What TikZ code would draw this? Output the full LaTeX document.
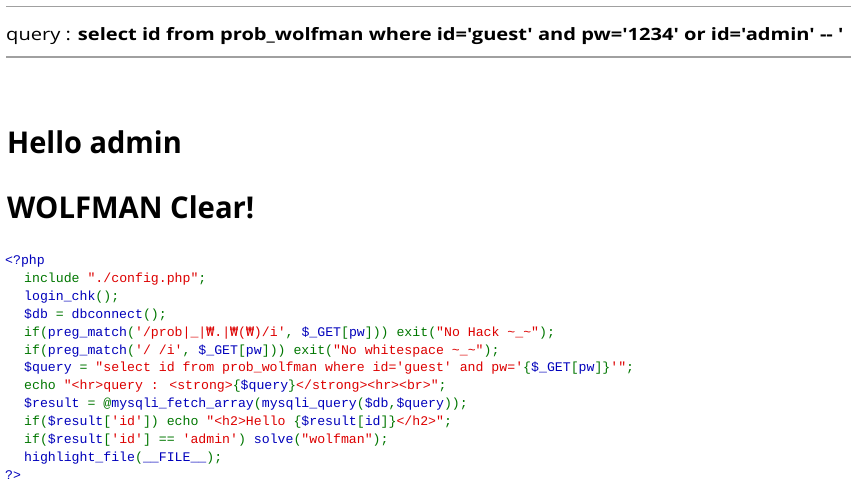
\documentclass[tikz,border=0pt]{standalone}
\usepackage{fontspec}
\usepackage{graphicx}
\newfontfamily\codefont{Liberation Mono}[Ligatures=TeXOff]
\newfontfamily\wonfont{DejaVu Sans Mono}[Ligatures=TeXOff]
\newfontfamily\pagefont{Open Sans}[Ligatures=TeXOff]
\definecolor{phpblue}{RGB}{0,0,187}
\definecolor{phpgreen}{RGB}{0,119,0}
\definecolor{phpred}{RGB}{221,0,0}
\definecolor{rulegray}{RGB}{160,160,160}
\newcommand\CB[1]{\textcolor{phpblue}{#1}}
\newcommand\CG[1]{\textcolor{phpgreen}{#1}}
\newcommand\CR[1]{\textcolor{phpred}{#1}}
\newcommand\won{{\wonfont ₩}}
\newcommand\tld{\textasciitilde}
\tikzset{
  codeline/.style={anchor=base west, inner sep=0pt, font=\codefont\fontsize{13.2}{16}\selectfont},
  headline/.style={anchor=base west, inner sep=0pt, font=\pagefont\fontsize{30}{34}\selectfont\bfseries},
  queryline/.style={anchor=base west, inner sep=0pt, font=\pagefont\fontsize{17}{20}\selectfont},
  hrule/.style={draw=rulegray, line width=1.3pt}
}
\begin{document}
\begin{tikzpicture}[x=1pt,y=-1pt]
\useasboundingbox (0,0) rectangle (851,489);
\fill[white] (0,0) rectangle (851,489);
\coordinate (r1a) at (6,6.5);
\coordinate (r1b) at (851,6.5);
\coordinate (r2a) at (6,57);
\coordinate (r2b) at (851,57);
\draw[hrule] (r1a) -- (r1b);
\draw[hrule] (r2a) -- (r2b);
\node[queryline] (query) at (6,40.5) {\scalebox{1.182}[1]{query : {\bfseries select id from prob\_wolfman where id='guest' and pw='1234' or id='admin' -- '}}};
\node[headline] (hello) at (7,153.5) {\scalebox{0.966}[1]{Hello admin}};
\node[headline] (clear) at (7,218.5) {\scalebox{0.975}[1]{WOLFMAN Clear!}};
\node[codeline] (c1) at (5,264.5) {\CB{<?php}};
\node[codeline] (c2) at (24,282.4) {\CG{include} \CR{"./config.php"}\CG{;}};
\node[codeline] (c3) at (24,300.3) {\CB{login\_chk}\CG{();}};
\node[codeline] (c4) at (24,318.2) {\CB{\$db} \CG{=} \CB{dbconnect}\CG{();}};
\node[codeline] (c5) at (24,336.1) {\CG{if(}\CB{preg\_match}\CG{(}\CR{'/prob|\_|\won.|\won(\won)/i'}\CG{,} \CB{\$\_GET}\CG{[}\CB{pw}\CG{]))} \CG{exit(}\CR{"No Hack \tld\_\tld"}\CG{);}};
\node[codeline] (c6) at (24,354.0) {\CG{if(}\CB{preg\_match}\CG{(}\CR{'/ /i'}\CG{,} \CB{\$\_GET}\CG{[}\CB{pw}\CG{]))} \CG{exit(}\CR{"No whitespace \tld\_\tld"}\CG{);}};
\node[codeline] (c7) at (24,371.9) {\CB{\$query} \CG{=} \CR{"select id from prob\_wolfman where id='guest' and pw='}\CG{\{}\CB{\$\_GET}\CG{[}\CB{pw}\CG{]\}}\CR{'"}\CG{;}};
\node[codeline] (c8) at (24,389.8) {\CG{echo} \CR{"<hr>query : <strong>}\CG{\{}\CB{\$query}\CG{\}}\CR{</strong><hr><br>"}\CG{;}};
\node[codeline] (c9) at (24,407.7) {\CB{\$result} \CG{= @}\CB{mysqli\_fetch\_array}\CG{(}\CB{mysqli\_query}\CG{(}\CB{\$db}\CG{,}\CB{\$query}\CG{));}};
\node[codeline] (c10) at (24,425.6) {\CG{if(}\CB{\$result}\CG{[}\CR{'id'}\CG{])} \CG{echo} \CR{"<h2>Hello }\CG{\{}\CB{\$result}\CG{[}\CB{id}\CG{]\}}\CR{</h2>"}\CG{;}};
\node[codeline] (c11) at (24,443.5) {\CG{if(}\CB{\$result}\CG{[}\CR{'id'}\CG{] ==} \CR{'admin'}\CG{)} \CB{solve}\CG{(}\CR{"wolfman"}\CG{);}};
\node[codeline] (c12) at (24,461.4) {\CB{highlight\_file}\CG{(}\CB{\_\_FILE\_\_}\CG{);}};
\node[codeline] (c13) at (5,479.3) {\CB{?>}};
\end{tikzpicture}
\end{document}
